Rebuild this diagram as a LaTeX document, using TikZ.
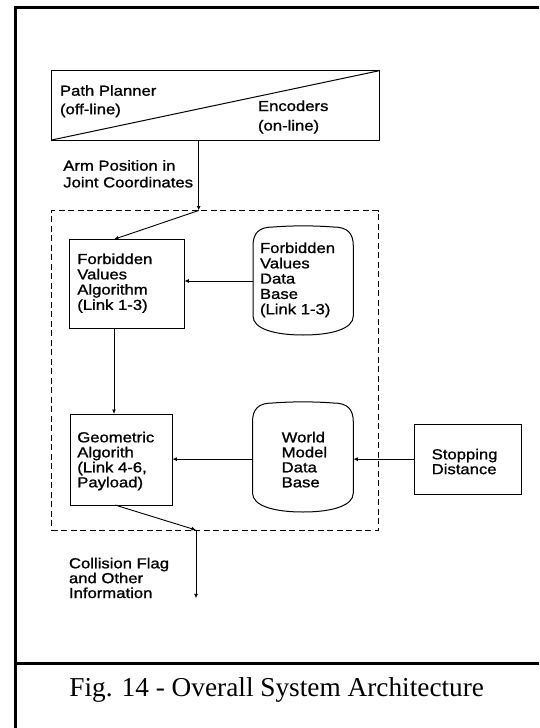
\documentclass[tikz,border=0pt]{standalone}
\usepackage{fontspec}
\setmainfont{Liberation Serif}
\newfontfamily\dfont[FakeStretch=1.15,FakeBold=1.1]{Liberation Sans}
\usetikzlibrary{arrows.meta,calc}
\newcommand\lns[1]{\begin{tabular}[t]{@{}l@{}}#1\end{tabular}}
\tikzset{
  lbl/.style={anchor=base west, inner sep=0pt, outer sep=0pt, font=\dfont\fontsize{14.5}{#1}\selectfont},
  lbl/.default=15,
  boxn/.style={draw, line width=1pt, inner sep=0pt, outer sep=0pt},
  ghost/.style={inner sep=0pt, outer sep=0pt},
  arr/.style={line width=0.9pt, -{Latex[length=4.5pt,width=4pt]}},
  frameline/.style={line width=#1, line cap=butt},
  dashbox/.style={draw, line width=0.9pt, dash pattern=on 6pt off 3.5pt, inner sep=0pt, outer sep=0pt},
}
\newcommand\dbpath[1]{%
  \draw[line width=1pt]
    ([yshift=-19pt]#1.north west)
      .. controls ([yshift=-6pt]#1.north west) and ([xshift=6pt]#1.north west) .. ([xshift=20pt]#1.north west)
      .. controls ([xshift=40pt,yshift=1.5pt]#1.north west) and ([xshift=-40pt,yshift=1.5pt]#1.north east) .. ([xshift=-20pt]#1.north east)
      .. controls ([xshift=-6pt]#1.north east) and ([yshift=-6pt]#1.north east) .. ([yshift=-19pt]#1.north east)
      -- ([yshift=19pt]#1.south east)
      .. controls ([yshift=6pt]#1.south east) and ([xshift=-22pt]#1.south east) .. (#1.south)
      .. controls ([xshift=22pt]#1.south west) and ([yshift=6pt]#1.south west) .. ([yshift=19pt]#1.south west)
      -- cycle;}
\begin{document}
\begin{tikzpicture}[x=1pt,y=-1pt]
\useasboundingbox (0,0) rectangle (539,728);
% outer frame
\draw[frameline=2.5pt] (14,7.3) -- (539,7.3);
\draw[frameline=3pt] (15.3,6) -- (15.3,728);
\draw[frameline=3.5pt] (14,663.5) -- (539,663.5);

% dashed enclosure
\node[dashbox, minimum width=326.6pt, minimum height=319.5pt] (enc) at (215,370.25) {};

% boxes
\node[boxn, minimum width=327.6pt, minimum height=69.3pt] (pp) at (215.5,105.35) {};
\draw[line width=1pt] (pp.south west) -- (pp.north east);
\node[boxn, minimum width=115pt, minimum height=89pt] (fva) at (126.8,283.8) {};
\node[boxn, minimum width=102.3pt, minimum height=91pt] (ga) at (121.15,459.5) {};
\node[boxn, minimum width=107.7pt, minimum height=69.7pt] (sd) at (467.85,459.15) {};
\node[ghost, minimum width=100.3pt, minimum height=108pt] (fvdb) at (303.15,281) {};
\node[ghost, minimum width=100.8pt, minimum height=109pt] (wmdb) at (302.9,457.5) {};
\dbpath{fvdb}
\dbpath{wmdb}

% texts
\node[lbl=18.5] (ppt) at (60,95.7) {\lns{Path Planner\\(off-line)}};
\node[lbl=19.5] (enct) at (258,111) {\lns{Encoders\\(on-line)}};
\node[lbl=16.7] (armt) at (63.3,170.7) {\lns{Arm Position in\\Joint Coordinates}};
\node[lbl=15.3] (fvat) at (77.3,264) {\lns{Forbidden\\Values\\Algorithm\\(Link 1-3)}};
\node[lbl=15.3] (fvdbt) at (260,253) {\lns{Forbidden\\Values\\Data\\Base\\(Link 1-3)}};
\node[lbl=15] (gat) at (77.3,442.3) {\lns{Geometric\\Algorith\\(Link 4-6,\\Payload)}};
\node[lbl=15] (wmdbt) at (281.7,442.3) {\lns{World\\Model\\Data\\Base}};
\node[lbl=14.5] (sdt) at (431.7,459.3) {\lns{Stopping\\Distance}};
\node[lbl=14.5] (colt) at (69,568.3) {\lns{Collision Flag\\and Other\\Information}};

% caption
\node[anchor=base, inner sep=0pt, font=\fontsize{27.3}{31}\selectfont] (cap) at (276.7,696.7) {Fig. 14 - Overall System Architecture};

% connector coordinates
\coordinate (j1) at (198.7,210.5);
\coordinate (colA) at (114,0);
\coordinate (colB) at (115,0);
\coordinate (j2) at (196,530);
\coordinate (outend) at (196,598.3);

% connectors
\draw[arr] (j1 |- pp.south) -- (j1);
\draw[arr] (j1) -- (colA |- fva.north);
\draw[arr] (fvdb.west) -- (fvdb.west -| fva.east);
\draw[arr] (colA |- fva.south) -- (colA |- ga.north);
\draw[arr] (sd.west) -- (sd.west -| wmdb.east);
\draw[arr] (wmdb.west |- sd.west) -- (sd.west -| ga.east);
\draw[arr] (colB |- ga.south) -- (j2);
\draw[arr] (j2) -- (outend);
\end{tikzpicture}
\end{document}
